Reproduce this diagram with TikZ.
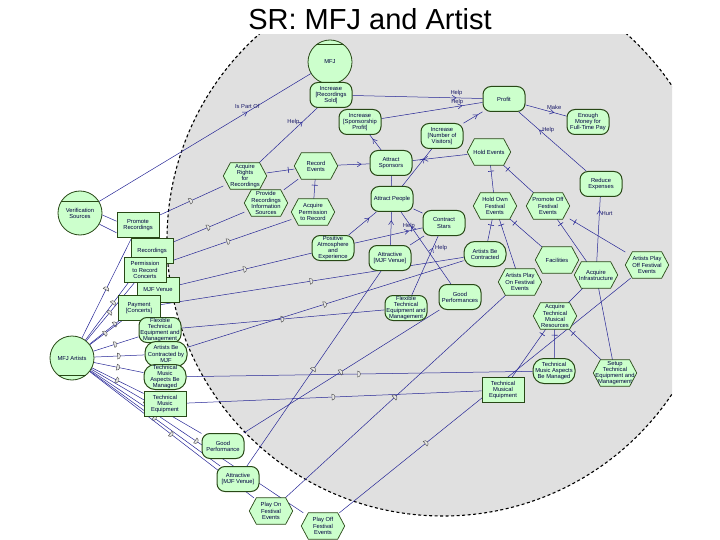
\documentclass[tikz,border=0pt]{standalone}
\usepackage{fontspec}
\setmainfont{Liberation Sans}
\usepackage{tikz}
\usetikzlibrary{positioning}
\usetikzlibrary{arrows.meta}
\usetikzlibrary{decorations.markings}

\definecolor{nodefill}{RGB}{204,255,204}
\definecolor{nodeline}{RGB}{40,72,22}
\definecolor{linkblue}{RGB}{38,38,150}
\definecolor{boundgray}{RGB}{224,224,224}

\pgfdeclarelayer{back}
\pgfdeclarelayer{links}
\pgfdeclarelayer{hexes}
\pgfsetlayers{back,links,hexes,main}

\begin{document}
\begin{tikzpicture}[x=1pt, y=-1pt,
    txt/.style={font=\fontsize{5.8}{6.1}\selectfont, text=black!75!blue, align=center, inner sep=0.5pt},
    elem/.style={txt, draw=nodeline, fill=nodefill, line width=1pt, minimum width=42pt, minimum height=25pt},
    actor/.style={txt, circle, draw=nodeline, fill=nodefill, line width=0.8pt, minimum size=44pt},
    soft/.style={elem, rounded corners=8pt},
    goal/.style={elem, rounded corners=11pt},
    task/.style={txt, minimum width=43pt, minimum height=26pt},
    hexline/.style={draw=nodeline, fill=nodefill, line width=0.7pt},
    res/.style={elem, rectangle, line width=0.9pt},
    link/.style={draw=linkblue, line width=0.5pt},
    contrib/.style={link, postaction=decorate, decoration={markings, mark=at position #1 with {\arrow[linkblue]{Straight Barb[length=4pt,width=5pt]}}}},
    contrib/.default=0.75,
    decomp/.style={link, postaction=decorate, decoration={markings, mark=at position -6pt with {\draw[linkblue, line width=0.6pt] (0pt,-3pt) -- (0pt,3pt);}}},
    dep/.style={link, postaction=decorate, decoration={markings, mark=at position #1 with {\draw[black!70, fill=gray!20, line width=0.4pt] (-2pt,-3pt) -- (-2pt,3pt) arc[start angle=90, end angle=-90, radius=3pt] -- cycle;}}},
    dep/.default=0.5,
    lbl/.style={font=\fontsize{5.8}{6}\selectfont, text=linkblue!70!black, inner sep=1pt}
  ]
    \useasboundingbox (0,0) rectangle (720,540);

    % boundary of MFJ
    \begin{pgfonlayer}{back}
        \begin{scope}
            \clip (0,35) rectangle (672,540);
            \fill[boundgray] (443,240) circle[radius=276pt];
            \draw[black, line width=1.1pt, dash pattern=on 3pt off 2.5pt] (443,240) circle[radius=276pt];
        \end{scope}
    \end{pgfonlayer}

    \node[font=\fontsize{29}{29}\selectfont] (title) at (370,19) {SR: MFJ and Artist};

    % actors
    \node[actor] (mfj) at (330,62) {MFJ};
    \node[actor] (vsrc) at (80,213) {Verification\\Sources};
    \node[actor] (art) at (72,358) {MFJ Artists};
    \draw[nodeline, line width=0.8pt] (mfj.130) -- (mfj.50);
    \draw[nodeline, line width=0.8pt] (vsrc.150) -- (vsrc.30);
    \draw[nodeline, line width=0.8pt] (art.-130) -- (art.-50);

    % MFJ softgoals and goals
    \node[soft] (increc) at (331,95) {Increase\\{[Recordings}\\{Sold]}};
    \node[soft] (incspo) at (360,122) {Increase\\{[Sponsorship}\\{Profit]}};
    \node[soft] (incvis) at (442,136) {Increase\\{[Number of}\\{Visitors]}};
    \node[soft] (profit) at (504,99) {Profit};
    \node[soft] (money) at (588,122) {Enough\\Money for\\Full-Time Pay};
    \node[soft] (redexp) at (601,184) {Reduce\\Expenses};
    \node[soft] (asponsor) at (391,163) {Attract\\Sponsors};
    \node[soft] (apeople) at (392,199) {Attract People};
    \node[soft] (cstars) at (444,223) {Contract\\Stars};
    \node[soft] (posatm) at (333,248) {Positive\\Atmosphere\\and\\Experience};
    \node[soft] (attven) at (390,258) {Attractive\\{[MJF Venue]}};
    \node[goal] (abc) at (485,254) {Artists Be\\Contracted};
    \node[soft] (goodperf) at (460,297) {Good\\Performances};
    \node[soft] (flex) at (406,308) {Flexible\\Technical\\Equipment and\\Management};
    \node[goal] (tmam) at (554,371) {Technical\\Music Aspects\\Be Managed};

    % MFJ tasks and resources
    \node[task] (holdev) at (489,152) {Hold Events};
    \node[task] (acqrights) at (245,176) {Acquire\\Rights\\for\\Recordings};
    \node[task] (recev) at (316,166) {Record\\Events};
    \node[task] (provrec) at (266,203) {Provide\\Recordings\\Information\\Sources};
    \node[task] (acqperm) at (313,212) {Acquire\\Permission\\to Record};
    \node[task] (holdown) at (495,206) {Hold Own\\Festival\\Events};
    \node[task] (promoff) at (548,206) {Promote Off\\Festival\\Events};
    \node[task] (facil) at (557,260) {Facilities};
    \node[task] (acqinf) at (596,275) {Acquire\\Infrastructure};
    \node[task] (apoff) at (647,265) {Artists Play\\Off Festival\\Events};
    \node[task] (aplayon) at (520,282) {Artists Play\\On Festival\\Events};
    \node[task] (acqtech) at (555,316) {Acquire\\Technical\\Musical\\Resources};
    \node[task] (setup) at (615,373) {Setup\\Technical\\Equipment and\\Management};
    \node[res] (tmeq) at (503,390) {Technical\\Musical\\Equipment};

    % dependums
    \node[res] (promrec) at (138,225) {Promote\\Recordings};
    \node[res] (recs) at (152,251) {Recordings};
    \node[res] (venue) at (158,290) {MJF Venue};
    \node[res] (perm) at (145,270) {Permission\\to Record\\Concerts};
    \node[res] (pay) at (139,308) {Payment\\{[Concerts]}};
    \node[soft] (flex2) at (160,330) {Flexible\\Technical\\Equipment and\\Management};
    \node[goal] (abc2) at (166,354) {Artists Be\\Contracted by\\MJF};
    \node[goal] (tmam2) at (165,377) {Technical\\Music\\Aspects Be\\Managed};
    \node[res] (tmeq2) at (165,404) {Technical\\Music\\Equipment};
    \node[soft] (good2) at (223,446) {Good\\Performance};
    \node[soft] (attv2) at (238,479) {Attractive\\{[MJF Venue]}};
    \node[task] (playon) at (271,511) {Play On\\Festival\\Events};
    \node[task] (playoff) at (323,526) {Play Off\\Festival\\Events};

    % task outlines
    \begin{pgfonlayer}{hexes}
        \foreach \t in {holdev, acqrights, recev, provrec, acqperm, holdown, promoff, facil, acqinf, apoff, aplayon, acqtech, setup, playon, playoff}
            \draw[hexline] ([xshift=7pt]\t.north west) -- ([xshift=-7pt]\t.north east) -- (\t.east)
                -- ([xshift=-7pt]\t.south east) -- ([xshift=7pt]\t.south west) -- (\t.west) -- cycle;
    \end{pgfonlayer}

    \begin{pgfonlayer}{links}
        % inside MFJ
        \draw[contrib=0.7] (vsrc) -- node[lbl, pos=0.7, above=2pt]{Is Part Of} (mfj);
        \draw[contrib] (acqrights) -- node[lbl, pos=0.75, left=2pt]{Help} (increc);
        \draw[contrib=0.8] (increc) -- node[lbl, pos=0.8, above=1pt]{Help} (profit);
        \draw[contrib=0.8] (incspo) -- node[lbl, pos=0.75, above=1pt]{Help} (profit);
        \draw[contrib] (incvis) -- (profit);
        \draw[contrib=0.7] (profit) -- node[lbl, pos=0.7, above=2pt]{Make} (money);
        \draw[contrib=0.7] (redexp) -- node[lbl, pos=0.7, right=2pt]{Help} (profit);
        \draw[contrib] (asponsor) -- (incspo);
        \draw[contrib] (recev) -- (asponsor);
        \draw[link] (apeople) -- (asponsor);
        \draw[contrib] (apeople) -- (incvis);
        \draw[contrib=0.8] (holdev) -- (asponsor);
        \draw[decomp] (acqrights) -- (recev);
        \draw[link] (provrec) -- (recev);
        \draw[decomp] (acqperm) -- (recev);
        \draw[decomp] (holdown) -- (holdev);
        \draw[decomp] (promoff) -- (holdev);
        \draw[decomp] (abc) -- (holdown);
        \draw[decomp] (aplayon) -- (holdown);
        \draw[decomp] (facil) -- (holdown);
        \draw[decomp] (acqinf) -- (promoff);
        \draw[decomp] (apoff) -- (promoff);
        \draw[contrib=0.8] (acqinf) -- node[lbl, pos=0.75, right=1pt]{Hurt} (redexp);
        \draw[link] (acqtech) -- (acqinf);
        \draw[link] (setup) -- (acqinf);
        \draw[decomp] (tmam) -- (acqtech);
        \draw[decomp] (setup) -- (acqtech);
        \draw[decomp] (tmeq) -- (acqtech);
        \draw[contrib] (posatm) -- (apeople);
        \draw[contrib] (attven) -- (apeople);
        \draw[link] (apeople) -- (cstars);
        \draw[contrib=0.8] (posatm) -- node[lbl, pos=0.8, above=1pt]{Help} (cstars);
        \draw[contrib=0.8] (goodperf) -- (apeople);
        \draw[contrib=0.8] (flex) -- node[lbl, pos=0.8, right=1pt]{Help} (cstars);
        \draw[link] (attven) -- (cstars);

        % dependencies
        \draw[link] (vsrc.-5) -- (promrec.170);
        \draw[link] (vsrc.-30) -- (promrec.200);
        \draw[dep] (promrec) -- (acqrights);
        \draw[dep] (art) -- (promrec);
        \draw[dep] (art) -- (recs);
        \draw[dep] (recs) -- (provrec);
        \draw[dep] (art) -- (perm);
        \draw[dep] (perm) -- (acqperm);
        \draw[dep] (art) -- (venue);
        \draw[dep] (venue) -- (posatm);
        \draw[dep] (art) -- (pay);
        \draw[dep] (pay) -- (abc);
        \draw[dep] (art) -- (flex2);
        \draw[dep] (flex2) -- (flex);
        \draw[dep] (art) -- (abc2);
        \draw[dep] (abc2) -- (abc);
        \draw[dep] (art) -- (tmam2);
        \draw[dep] (tmam2) -- (tmam);
        \draw[dep] (art) -- (tmeq2);
        \draw[dep] (tmeq2) -- (tmeq);
        \draw[dep] (art) -- (good2);
        \draw[dep] (good2) -- (goodperf);
        \draw[dep] (art) -- (attv2);
        \draw[dep] (attv2) -- (attven);
        \draw[dep] (art) -- (playon);
        \draw[dep] (playon) -- (aplayon);
        \draw[dep] (art) -- (playoff);
        \draw[dep=0.3] (playoff) -- (apoff);
    \end{pgfonlayer}
\end{tikzpicture}
\end{document}
